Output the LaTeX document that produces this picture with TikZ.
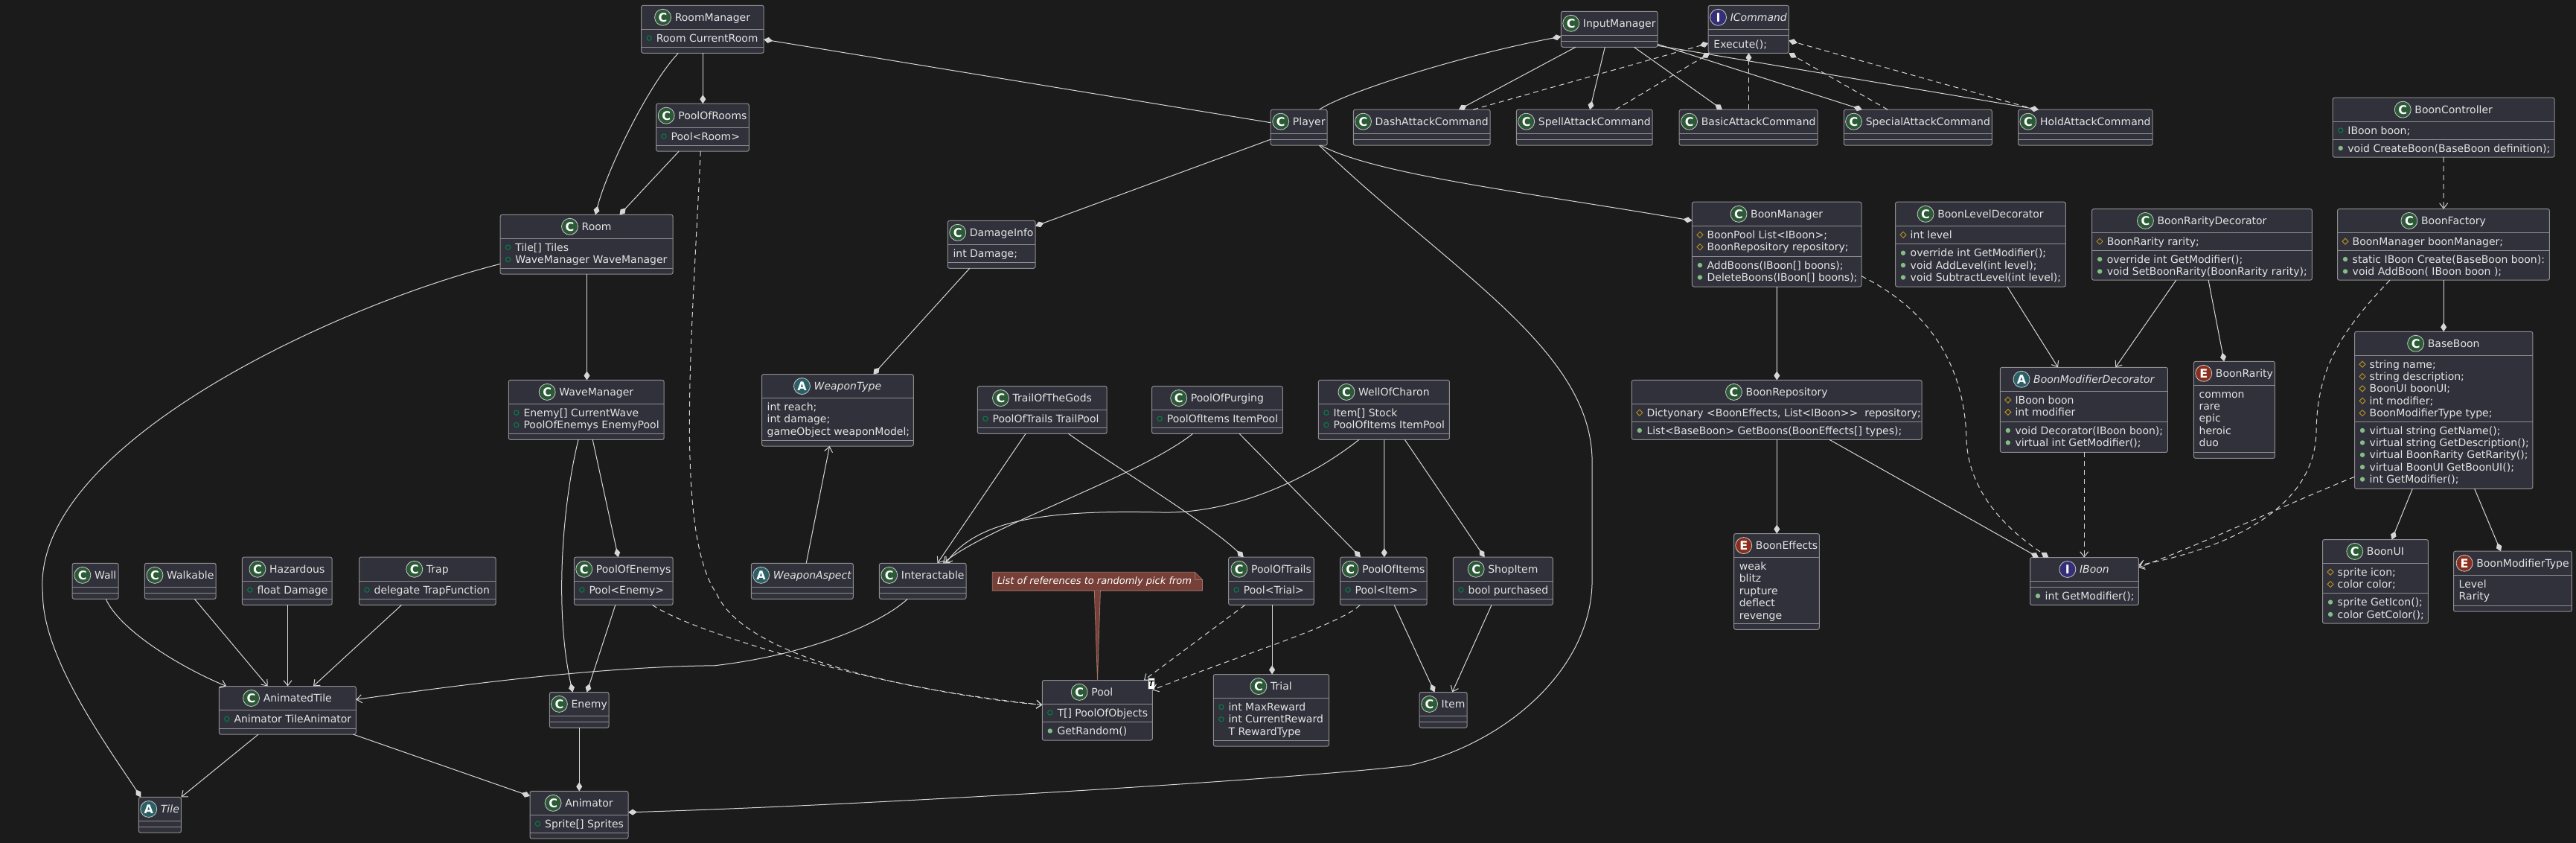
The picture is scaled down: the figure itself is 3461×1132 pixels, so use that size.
\documentclass[tikz,border=0pt]{standalone}
\usepackage{fontspec}
\setmainfont{DejaVu Sans}
\usetikzlibrary{arrows.meta,calc,fit}
\definecolor{bgc}{HTML}{1B1B1B}
\definecolor{boxf}{HTML}{30313A}
\definecolor{boxd}{HTML}{8E8E8E}
\definecolor{txc}{HTML}{E4E4E4}
\definecolor{lnc}{HTML}{D6D6D6}
\definecolor{circb}{HTML}{C8C8C8}
\definecolor{cC}{HTML}{2C5A37}
\definecolor{cA}{HTML}{2A6066}
\definecolor{cI}{HTML}{352F78}
\definecolor{cE}{HTML}{8A2F1E}
\definecolor{icfc}{HTML}{038048}
\definecolor{icmc}{HTML}{84BE84}
\definecolor{icpc}{HTML}{B38D22}
\definecolor{notef}{HTML}{763F37}
\definecolor{noted}{HTML}{A37468}
\newcommand{\fsz}{\fontsize{14}{16.4}\selectfont}
\newcounter{tn}
\newcommand{\UBox}[7]{%
  \node[ubx, fit={(#2,#3) (#4,#5)}] (#1) {};
  \draw[dvl] (#2,#6) -- (#4,#6);
  \draw[dvl] (#2,#7) -- (#4,#7);}
\newcommand{\UHead}[8]{%
  \pgfmathsetmacro{\HdX}{(#2+#3)/2+13.5}%
  \pgfmathsetmacro{\HdY}{(#4+#5)/2}%
  \node[hd] (#1-h) at (\HdX,\HdY) {#8};
  \node[cic, fill=#6] (#1-c) at ([xshift=-16pt]#1-h.west) {#7};}
\newcommand{\Tf}[4]{\stepcounter{tn}\pgfmathsetmacro{\Ycen}{#2+11.8+16.4*#3}%
  \draw[icf] (#1+10.5,\Ycen) circle[radius=3.2pt];
  \node[tx] (t\arabic{tn}) at (#1+20,\Ycen+5) {#4};}
\newcommand{\Tm}[4]{\stepcounter{tn}\pgfmathsetmacro{\Ycen}{#2+11.8+16.4*#3}%
  \fill[icmc] (#1+10.5,\Ycen) circle[radius=3.2pt];
  \node[tx] (t\arabic{tn}) at (#1+20,\Ycen+5) {#4};}
\newcommand{\Tp}[4]{\stepcounter{tn}\pgfmathsetmacro{\Ycen}{#2+11.8+16.4*#3}%
  \draw[icp] (#1+10.5,\Ycen-4) -- (#1+14.5,\Ycen) -- (#1+10.5,\Ycen+4) -- (#1+6.5,\Ycen) -- cycle;
  \node[tx] (t\arabic{tn}) at (#1+20,\Ycen+5) {#4};}
\newcommand{\Ti}[4]{\stepcounter{tn}\pgfmathsetmacro{\Ycen}{#2+11.8+16.4*#3}%
  \node[tx] (t\arabic{tn}) at (#1+20,\Ycen+5) {#4};}
\newcommand{\Tn}[4]{\stepcounter{tn}\pgfmathsetmacro{\Ycen}{#2+11.8+16.4*#3}%
  \node[tx] (t\arabic{tn}) at (#1+7,\Ycen+5) {#4};}
\begin{document}
\begin{tikzpicture}[x=1pt,y=-1pt,
  ubx/.style={draw=boxd, fill=boxf, line width=1pt, rounded corners=2.5pt, inner sep=0pt, outer sep=0pt},
  dvl/.style={draw=boxd, line width=1pt},
  hd/.style={inner sep=0pt, text=txc, font=\fsz, text height=12pt, text depth=2pt},
  cic/.style={circle, minimum size=22pt, inner sep=0pt, draw=circb, line width=0.8pt, text=white, font=\bfseries\fontsize{16}{16}\selectfont},
  tx/.style={anchor=base west, inner sep=0pt, text=txc, font=\fsz},
  icf/.style={draw=icfc, line width=1pt},
  icp/.style={draw=icpc, line width=1pt},
  ln/.style={draw=lnc, line width=1pt},
  cmp/.style={ln, -{Diamond[length=12pt,width=8pt]}},
  cmps/.style={ln, {Diamond[length=12pt,width=8pt]}-},
  arw/.style={ln, -{Straight Barb[length=7pt,width=11pt]}},
  dsh/.style={dash pattern=on 7pt off 5pt}]
\fill[bgc] (0,0) rectangle (3461,1132);
\useasboundingbox (0,0) rectangle (3461,1132);

% ---------------- classes ----------------
\UBox{rm}{861.6}{7.3}{1026.2}{71.3}{39.3}{63.3}
\UHead{rm}{861.6}{1026.2}{7.3}{39.3}{cC}{C}{RoomManager}
\Tf{861.6}{39.3}{0}{Room CurrentRoom}

\UBox{por}{881.5}{139.2}{1006.3}{203.2}{171.2}{195.2}
\UHead{por}{881.5}{1006.3}{139.2}{171.2}{cC}{C}{PoolOfRooms}
\Tf{881.5}{171.2}{0}{Pool<Room>}

\UBox{room}{672.2}{288.3}{904.1}{368.2}{320.3}{360.3}
\UHead{room}{672.2}{904.1}{288.3}{320.3}{cC}{C}{Room}
\Tf{672.2}{320.3}{0}{Tile[] Tiles}
\Tf{672.2}{320.3}{1}{WaveManager WaveManager}

\UBox{wm}{683.3}{510.4}{892.2}{590.3}{542.4}{582.3}
\UHead{wm}{683.3}{892.2}{510.4}{542.4}{cC}{C}{WaveManager}
\Tf{683.3}{542.4}{0}{Enemy[] CurrentWave}
\Tf{683.3}{542.4}{1}{PoolOfEnemys EnemyPool}

\UBox{wt}{1023.5}{502.7}{1227.3}{599}{534.4}{591.4}
\UHead{wt}{1023.5}{1227.3}{502.7}{534.4}{cA}{A}{\itshape WeaponType}
\Tn{1023.5}{534.4}{0}{int reach;}
\Tn{1023.5}{534.4}{1}{int damage;}
\Tn{1023.5}{534.4}{2}{gameObject weaponModel;}

\UBox{pl}{1707.2}{147.2}{1783.2}{195.2}{179.2}{187.2}
\UHead{pl}{1707.2}{1783.2}{147.2}{179.2}{cC}{C}{Player}

\UBox{di}{1273.3}{296.3}{1391.1}{360.3}{328.3}{352.3}
\UHead{di}{1273.3}{1391.1}{296.3}{328.3}{cC}{C}{DamageInfo}
\Tn{1273.3}{328.3}{0}{int Damage;}

\UBox{tog}{1313.4}{518.7}{1487.2}{582.3}{550.4}{574.2}
\UHead{tog}{1313.4}{1487.2}{518.7}{550.4}{cC}{C}{TrailOfTheGods}
\Tf{1313.4}{550.4}{0}{PoolOfTrails TrailPool}

\UBox{pop}{1547.6}{518.7}{1723.3}{582.3}{550.4}{574.2}
\UHead{pop}{1547.6}{1723.3}{518.7}{550.4}{cC}{C}{PoolOfPurging}
\Tf{1547.6}{550.4}{0}{PoolOfItems ItemPool}

\UBox{woc}{1771.4}{510.4}{1947.4}{590.3}{542.4}{582.3}
\UHead{woc}{1771.4}{1947.4}{510.4}{542.4}{cC}{C}{WellOfCharon}
\Tf{1771.4}{542.4}{0}{Item[] Stock}
\Tf{1771.4}{542.4}{1}{PoolOfItems ItemPool}

\UBox{im}{2097.4}{15.3}{2227.1}{63.3}{47.3}{55.3}
\UHead{im}{2097.4}{2227.1}{15.3}{47.3}{cC}{C}{InputManager}

\UBox{ic}{2295.2}{7.3}{2403.4}{71.3}{39.3}{47.3}
\UHead{ic}{2295.2}{2403.4}{7.3}{39.3}{cI}{I}{\itshape ICommand}
\Tn{2295.2}{47.3}{0}{Execute();}

\UBox{dac}{1818.4}{147.2}{2002.1}{195.2}{179.2}{187.2}
\UHead{dac}{1818.4}{2002.1}{147.2}{179.2}{cC}{C}{DashAttackCommand}
\UBox{sac}{2037.3}{147.2}{2220.2}{195.2}{179.2}{187.2}
\UHead{sac}{2037.3}{2220.2}{147.2}{179.2}{cC}{C}{SpellAttackCommand}
\UBox{bac}{2256.2}{147.2}{2442.1}{195.2}{179.2}{187.2}
\UHead{bac}{2256.2}{2442.1}{147.2}{179.2}{cC}{C}{BasicAttackCommand}
\UBox{spc}{2477.3}{147.2}{2676.3}{195.2}{179.2}{187.2}
\UHead{spc}{2477.3}{2676.3}{147.2}{179.2}{cC}{C}{SpecialAttackCommand}
\UBox{hac}{2711.5}{147.2}{2892.1}{195.2}{179.2}{187.2}
\UHead{hac}{2711.5}{2892.1}{147.2}{179.2}{cC}{C}{HoldAttackCommand}

\UBox{bm}{2273.4}{271.2}{2501}{385}{303.5}{344.3}
\UHead{bm}{2273.4}{2501}{271.2}{303.5}{cC}{C}{BoonManager}
\Tp{2273.4}{303.5}{0}{BoonPool List<IBoon>;}
\Tp{2273.4}{303.5}{1}{BoonRepository repository;}
\Tm{2273.4}{344.3}{0}{AddBoons(IBoon[] boons);}
\Tm{2273.4}{344.3}{1}{DeleteBoons(IBoon[] boons);}

\UBox{br}{2192.3}{510.4}{2582.1}{590.3}{542.4}{566.2}
\UHead{br}{2192.3}{2582.1}{510.4}{542.4}{cC}{C}{BoonRepository}
\Tp{2192.3}{542.4}{0}{Dictyonary <BoonEffects, List<IBoon>\kern0pt>\ \ repository;}
\Tm{2192.3}{566.2}{0}{List<BaseBoon> GetBoons(BoonEffects[] types);}

\UBox{bld}{2546.5}{271.2}{2775.4}{385}{303.5}{327.9}
\UHead{bld}{2546.5}{2775.4}{271.2}{303.5}{cC}{C}{BoonLevelDecorator}
\Tp{2546.5}{303.5}{0}{int level}
\Tm{2546.5}{327.9}{0}{override int GetModifier();}
\Tm{2546.5}{327.9}{1}{void AddLevel(int level);}
\Tm{2546.5}{327.9}{2}{void SubtractLevel(int level);}

\UBox{brd}{2810.6}{280.6}{3106.4}{376.2}{312.3}{336.3}
\UHead{brd}{2810.6}{3106.4}{280.6}{312.3}{cC}{C}{BoonRarityDecorator}
\Tp{2810.6}{312.3}{0}{BoonRarity rarity;}
\Tm{2810.6}{336.3}{0}{override int GetModifier();}
\Tm{2810.6}{336.3}{1}{void SetBoonRarity(BoonRarity rarity);}

\UBox{bmd}{2687.3}{493.3}{2912.3}{607.4}{525.3}{566.2}
\UHead{bmd}{2687.3}{2912.3}{493.3}{525.3}{cA}{A}{\itshape BoonModifierDecorator}
\Tp{2687.3}{525.3}{0}{IBoon boon}
\Tp{2687.3}{525.3}{1}{int modifier}
\Tm{2687.3}{566.2}{0}{void Decorator(IBoon boon);}
\Tm{2687.3}{566.2}{1}{virtual int GetModifier();}

\UBox{bc}{3134.2}{131.2}{3432.1}{211.2}{163.2}{187.2}
\UHead{bc}{3134.2}{3432.1}{131.2}{163.2}{cC}{C}{BoonController}
\Tf{3134.2}{163.2}{0}{IBoon boon;}
\Tm{3134.2}{187.2}{0}{void CreateBoon(BaseBoon definition);}

\UBox{bf}{3140.5}{280.6}{3425.4}{376.2}{312.3}{336.3}
\UHead{bf}{3140.5}{3425.4}{280.6}{312.3}{cC}{C}{BoonFactory}
\Tp{3140.5}{312.3}{0}{BoonManager boonManager;}
\Tm{3140.5}{336.3}{0}{static IBoon Create(BaseBoon boon):}
\Tm{3140.5}{336.3}{1}{void AddBoon( IBoon boon );}

\UBox{bb}{3163.5}{445.3}{3402.8}{656.3}{477.3}{566.2}
\UHead{bb}{3163.5}{3402.8}{445.3}{477.3}{cC}{C}{BaseBoon}
\Tp{3163.5}{477.3}{0}{string name;}
\Tp{3163.5}{477.3}{1}{string description;}
\Tp{3163.5}{477.3}{2}{BoonUI boonUI;}
\Tp{3163.5}{477.3}{3}{int modifier;}
\Tp{3163.5}{477.3}{4}{BoonModifierType type;}
\Tm{3163.5}{566.2}{0}{virtual string GetName();}
\Tm{3163.5}{566.2}{1}{virtual string GetDescription();}
\Tm{3163.5}{566.2}{2}{virtual BoonRarity GetRarity();}
\Tm{3163.5}{566.2}{3}{virtual BoonUI GetBoonUI();}
\Tm{3163.5}{566.2}{4}{int GetModifier();}

\UBox{brar}{2947.4}{485.3}{3056.4}{615.4}{517.3}{607.4}
\UHead{brar}{2947.4}{3056.4}{485.3}{517.3}{cE}{E}{BoonRarity}
\Tn{2947.4}{517.3}{0}{common}
\Tn{2947.4}{517.3}{1}{rare}
\Tn{2947.4}{517.3}{2}{epic}
\Tn{2947.4}{517.3}{3}{heroic}
\Tn{2947.4}{517.3}{4}{duo}

\UBox{bui}{3120.5}{724.5}{3262.4}{837.2}{756.3}{796.8}
\UHead{bui}{3120.5}{3262.4}{724.5}{756.3}{cC}{C}{BoonUI}
\Tp{3120.5}{756.3}{0}{sprite icon;}
\Tp{3120.5}{756.3}{1}{color color;}
\Tm{3120.5}{796.8}{0}{sprite GetIcon();}
\Tm{3120.5}{796.8}{1}{color GetColor();}

\UBox{bmt}{3296.5}{740.2}{3455.4}{821.2}{772.3}{813.2}
\UHead{bmt}{3296.5}{3455.4}{740.2}{772.3}{cE}{E}{BoonModifierType}
\Tn{3296.5}{772.3}{0}{Level}
\Tn{3296.5}{772.3}{1}{Rarity}

\UBox{be}{2329.6}{716.5}{2444.4}{845.3}{748.6}{837.2}
\UHead{be}{2329.6}{2444.4}{716.5}{748.6}{cE}{E}{BoonEffects}
\Tn{2329.6}{748.6}{0}{weak}
\Tn{2329.6}{748.6}{1}{blitz}
\Tn{2329.6}{748.6}{2}{rupture}
\Tn{2329.6}{748.6}{3}{deflect}
\Tn{2329.6}{748.6}{4}{revenge}

\UBox{ib}{2727.5}{748.6}{2873.3}{812.4}{780.3}{788.4}
\UHead{ib}{2727.5}{2873.3}{748.6}{780.3}{cI}{I}{\itshape IBoon}
\Tm{2727.5}{788.4}{0}{int GetModifier();}

\UBox{wall}{97.2}{756.3}{159.2}{804.4}{788.4}{796.4}
\UHead{wall}{97.2}{159.2}{756.3}{788.4}{cC}{C}{Wall}
\UBox{walk}{194.4}{756.3}{290.1}{804.4}{788.4}{796.4}
\UHead{walk}{194.4}{290.1}{756.3}{788.4}{cC}{C}{Walkable}

\UBox{haz}{325.3}{748.2}{446.2}{812.4}{780.3}{804.4}
\UHead{haz}{325.3}{446.2}{748.2}{780.3}{cC}{C}{Hazardous}
\Tf{325.3}{780.3}{0}{float Damage}

\UBox{trap}{482.5}{748.2}{666.1}{812.4}{780.3}{804.4}
\UHead{trap}{482.5}{666.1}{748.2}{780.3}{cC}{C}{Trap}
\Tf{482.5}{780.3}{0}{delegate TrapFunction}

\UBox{at}{294.3}{921.5}{478.3}{986.1}{953.6}{978.1}
\UHead{at}{294.3}{478.3}{921.5}{953.6}{cC}{C}{AnimatedTile}
\Tf{294.3}{953.6}{0}{Animator TileAnimator}

\UBox{tile}{186.4}{1070.4}{243.4}{1118.1}{1102.5}{1110.1}
\UHead{tile}{186.4}{243.4}{1070.4}{1102.5}{cA}{A}{\itshape Tile}

\UBox{poe}{771.3}{748.2}{904.1}{812.4}{780.3}{804.4}
\UHead{poe}{771.3}{904.1}{748.2}{780.3}{cC}{C}{PoolOfEnemys}
\Tf{771.3}{780.3}{0}{Pool<Enemy>}

\UBox{wa}{1009.3}{756.3}{1146.3}{804.4}{788.4}{796.4}
\UHead{wa}{1009.3}{1146.3}{756.3}{788.4}{cA}{A}{\itshape WeaponAspect}

\UBox{en}{738.4}{929.5}{818}{977.3}{961.3}{969.3}
\UHead{en}{738.4}{818}{929.5}{961.3}{cC}{C}{Enemy}

\UBox{ani}{712}{1062.3}{844}{1126.2}{1094.4}{1118.1}
\UHead{ani}{712}{844}{1062.3}{1094.4}{cC}{C}{Animator}
\Tf{712}{1094.4}{0}{Sprite[] Sprites}

\UBox{ia}{1181.4}{756.3}{1298.1}{804.4}{788.4}{796.4}
\UHead{ia}{1181.4}{1298.1}{756.3}{788.4}{cC}{C}{Interactable}

\UBox{pool}{1400.3}{913.5}{1548.4}{994.1}{945.2}{969.7}
\UHead{pool}{1400.3}{1534.4}{913.5}{945.2}{cC}{C}{Pool}
\Tf{1400.3}{945.2}{0}{T[] PoolOfObjects}
\Tm{1400.3}{969.7}{0}{GetRandom()}
\node[draw=black!70, fill=white, inner sep=0pt, minimum width=9pt, minimum height=15pt, text=black, font=\bfseries\itshape\fontsize{10}{10}\selectfont] (poolT) at (1546.7,918) {T};

\UBox{pot}{1650.6}{748.2}{1765.3}{812.4}{780.3}{804.4}
\UHead{pot}{1650.6}{1765.3}{748.2}{780.3}{cC}{C}{PoolOfTrails}
\Tf{1650.6}{780.3}{0}{Pool<Trial>}

\UBox{tri}{1630.3}{905.5}{1785.5}{1002.1}{937.6}{994.1}
\UHead{tri}{1630.3}{1785.5}{905.5}{937.6}{cC}{C}{Trial}
\Tf{1630.3}{937.6}{0}{int MaxReward}
\Tf{1630.3}{937.6}{1}{int CurrentReward}
\Ti{1630.3}{937.6}{2}{T RewardType}

\UBox{poi}{1800.5}{748.2}{1917.2}{812.4}{780.3}{804.4}
\UHead{poi}{1800.5}{1917.2}{748.2}{780.3}{cC}{C}{PoolOfItems}
\Tf{1800.5}{780.3}{0}{Pool<Item>}

\UBox{shop}{1952.4}{748.2}{2086.3}{812.4}{780.3}{804.4}
\UHead{shop}{1952.4}{2086.3}{748.2}{780.3}{cC}{C}{ShopItem}
\Tf{1952.4}{780.3}{0}{bool purchased}

\UBox{item}{1907.2}{929.5}{1971.1}{977.3}{961.3}{969.3}
\UHead{item}{1907.2}{1971.1}{929.5}{961.3}{cC}{C}{Item}

% note
\node[inner sep=0pt, outer sep=0pt, fit={(1333.3,768.3) (1615.4,793.1)}] (note) {};
\filldraw[fill=notef, draw=noted, line width=0.8pt] (1333.3,768.3) -- (1605.4,768.3) -- (1615.4,778.3) -- (1615.4,793.1) -- (1333.3,793.1) -- cycle;
\draw[noted, line width=0.8pt] (1605.4,768.3) -- (1605.4,778.3) -- (1615.4,778.3);
\node[inner sep=0pt, text=white, font=\itshape\fontsize{13}{15}\selectfont, text height=10pt, text depth=3pt] (notet) at (1470.4,780.7) {List of references to randomly pick from};
\filldraw[fill=notef, draw=noted, line width=0.8pt] ($(note.south west)+(137,0)$) -- ($(pool.north west)+(74.2,0)$) -- ($(note.south west)+(145.1,0)$);

% ---------------- connectors ----------------
\draw[cmps] ($(rm.north west)+(164.6,45.7)$) -- ($(pl.north west)+(0,17.5)$);
\draw[cmp] ($(rm.north west)+(49.8,64)$) .. controls (870,115) and (815,230) .. ($(room.north west)+(127.8,0)$);
\draw[cmp] ($(rm.north west)+(82.7,64)$) -- ($(por.north west)+(62.8,0)$);
\draw[cmp] ($(por.north west)+(30.6,64)$) -- ($(room.north west)+(160.3,0)$);
\draw[arw,dsh] ($(por.north west)+(59.7,64)$) .. controls (930,450) and (905.7,714.6) .. (962.7,797.1) .. controls (1000,880) and (1200,925) .. ($(pool.north west)+(0,33)$);
\draw[arw,dsh] ($(poe.north west)+(105.3,64.2)$) .. controls (930,850) and (1200,930) .. ($(pool.north west)+(0,33)$);
\draw[cmp] ($(room.north west)+(0,66.1)$) .. controls (450,410) and (40,600) .. (57.4,797.1) .. controls (57.4,880) and (135.4,989.4) .. ($(tile.north west)+(3,0)$);
\draw[cmp] ($(room.north west)+(116.3,79.9)$) -- ($(wm.north west)+(105.2,0)$);
\draw[cmp] ($(wm.north west)+(93.8,79.9)$) .. controls (755,680) and (745,820) .. ($(en.north west)+(31,0)$);
\draw[cmp] ($(wm.north west)+(112.9,79.9)$) -- ($(poe.north west)+(59.3,0)$);
\draw[cmp] ($(poe.north west)+(55.5,64.2)$) -- ($(en.north west)+(50.1,0)$);
\draw[cmp] ($(en.north west)+(39.8,47.8)$) -- ($(ani.north west)+(66.2,0)$);
\draw[cmp] ($(at.north west)+(180.2,64.6)$) -- ($(ani.north west)+(0,6.6)$);
\draw[cmp] ($(pl.north west)+(65.3,48)$) .. controls (1950,365) and (2139.1,470) .. (2139.1,620) -- (2139.1,778.9) .. controls (2139.1,900) and (2020,1000) .. (1893.1,1028) .. controls (1750,1045) and (1200,1080) .. ($(ani.north west)+(132,28.5)$);
\draw[arw] ($(at.north west)+(52.8,64.6)$) -- ($(tile.north west)+(57,0)$);
\draw[arw] ($(wall.north west)+(45.1,48.1)$) .. controls (160,845) and (240,895) .. ($(at.north west)+(9.9,0)$);
\draw[arw] ($(walk.north west)+(67,48.1)$) -- ($(at.north west)+(65.4,0)$);
\draw[arw] ($(haz.north west)+(61.2,64.2)$) -- ($(at.north west)+(92.2,0)$);
\draw[arw] ($(trap.north west)+(57,64.2)$) -- ($(at.north west)+(126.6,0)$);
\draw[arw] ($(ia.north west)+(37.9,48.1)$) .. controls (1180,840) and (1080,880) .. (960,893.8) .. controls (820,895) and (650,915) .. ($(at.north west)+(184,17.9)$);
\draw[arw] ($(tog.north west)+(64.7,63.6)$) -- ($(ia.north west)+(78.1,0)$);
\draw[arw] ($(pop.north west)+(55.1,63.6)$) .. controls (1530,640) and (1330,705) .. ($(ia.north west)+(85.7,0)$);
\draw[arw] ($(woc.north west)+(54.7,79.9)$) .. controls (1750,650) and (1650,690) .. (1560,688) .. controls (1400,684) and (1310,700) .. ($(ia.north west)+(89.6,0)$);
\draw[cmp] ($(tog.north west)+(122.1,63.6)$) .. controls (1480,615) and (1620,700) .. ($(pot.north west)+(20.2,0)$);
\draw[cmp] ($(pop.north west)+(117.5,63.6)$) -- ($(poi.north west)+(27.5,0)$);
\draw[cmp] ($(woc.north west)+(88.4,79.9)$) -- ($(poi.north west)+(59.3,0)$);
\draw[cmp] ($(woc.north west)+(115.9,79.9)$) -- ($(shop.north west)+(42.1,0)$);
\draw[arw,dsh] ($(pot.north west)+(22.2,64.2)$) -- ($(pool.north west)+(136.6,0)$);
\draw[arw,dsh] ($(poi.north west)+(26.7,64.2)$) .. controls (1800,840) and (1650,885) .. ($(pool.north west)+(148.1,13.1)$);
\draw[cmp] ($(pot.north west)+(58.5,64.2)$) -- ($(tri.north west)+(78.8,0)$);
\draw[cmp] ($(poi.north west)+(72.7,64.2)$) -- ($(item.north west)+(20.3,0)$);
\draw[arw] ($(shop.north west)+(51.6,64.2)$) -- ($(item.north west)+(44,0)$);
\draw[cmp] ($(di.north west)+(29.4,64)$) -- ($(wt.north west)+(149.9,0)$);
\draw[cmp] ($(pl.north west)+(0,40)$) -- ($(di.north west)+(117.8,7.2)$);
\draw[arw] ($(wa.north west)+(73.9,0)$) -- ($(wt.north west)+(91.1,96.3)$);
\draw[cmp] ($(pl.north west)+(65.3,0)$) .. controls (1805,125) and (1960,75) .. ($(im.north west)+(0,33.8)$);
\draw[cmp] ($(im.north west)+(19.5,48)$) -- ($(dac.north west)+(141.6,0)$);
\draw[cmp] ($(im.north west)+(58.9,48)$) -- ($(sac.north west)+(98.8,0)$);
\draw[cmp] ($(im.north west)+(98,48)$) -- ($(bac.north west)+(57.8,0)$);
\draw[cmp] ($(im.north west)+(129.7,44)$) -- ($(spc.north west)+(24.5,0)$);
\draw[cmp] ($(im.north west)+(129.7,46)$) -- ($(hac.north west)+(27.5,0)$);
\draw[cmp,dsh] ($(dac.north west)+(160.8,0)$) -- ($(ic.north west)+(0,50.9)$);
\draw[cmp,dsh] ($(sac.north west)+(133.2,0)$) -- ($(ic.north west)+(2,64)$);
\draw[cmp,dsh] ($(bac.north west)+(93.3,0)$) -- ($(ic.north west)+(54.3,64)$);
\draw[cmp,dsh] ($(spc.north west)+(58.9,0)$) -- ($(ic.north west)+(108.2,64)$);
\draw[cmp,dsh] ($(hac.north west)+(23.7,0)$) -- ($(ic.north west)+(108.2,47.2)$);
\draw[cmp] ($(pl.north west)+(67.2,48)$) .. controls (1850,235) and (2050,258) .. ($(bm.north west)+(0,25.1)$);
\draw[cmp] ($(bm.north west)+(113.9,113.8)$) -- ($(br.north west)+(195,0)$);
\draw[cmp,dsh] ($(bm.north west)+(227.6,99.6)$) .. controls (2600,420) and (2640,500) .. (2642,590) .. controls (2645,670) and (2710,720) .. ($(ib.north west)+(24.9,0)$);
\draw[cmp] ($(br.north west)+(195,79.9)$) -- ($(be.north west)+(57.7,0)$);
\draw[cmp] ($(br.north west)+(265.5,79.9)$) -- ($(ib.north west)+(11.5,0)$);
\draw[arw] ($(bld.north west)+(150.4,113.8)$) -- ($(bmd.north west)+(77.7,0)$);
\draw[arw] ($(brd.north west)+(113.1,95.6)$) -- ($(bmd.north west)+(155,0)$);
\draw[cmp] ($(brd.north west)+(156.5,95.6)$) -- ($(brar.north west)+(40.8,0)$);
\draw[arw,dsh] ($(bmd.north west)+(112.9,114.1)$) -- ($(ib.north west)+(72.7,0)$);
\draw[arw,dsh] ($(bc.north west)+(148.9,80)$) -- ($(bf.north west)+(142.6,0)$);
\draw[cmp] ($(bf.north west)+(142.6,95.6)$) -- ($(bb.north west)+(119.6,0)$);
\draw[arw,dsh] ($(bf.north west)+(70.4,95.6)$) .. controls (3140,450) and (3113,500) .. (3112,580) .. controls (3110,680) and (3000,735) .. ($(ib.north west)+(145.8,10.4)$);
\draw[arw,dsh] ($(bb.north west)+(0,195)$) .. controls (3100,665) and (2960,730) .. ($(ib.north west)+(145.8,13.4)$);
\draw[cmp] ($(bb.north west)+(77.8,211)$) -- ($(bui.north west)+(93,0)$);
\draw[cmp] ($(bb.north west)+(161.1,211)$) -- ($(bmt.north west)+(63.4,0)$);
\end{tikzpicture}
\end{document}
